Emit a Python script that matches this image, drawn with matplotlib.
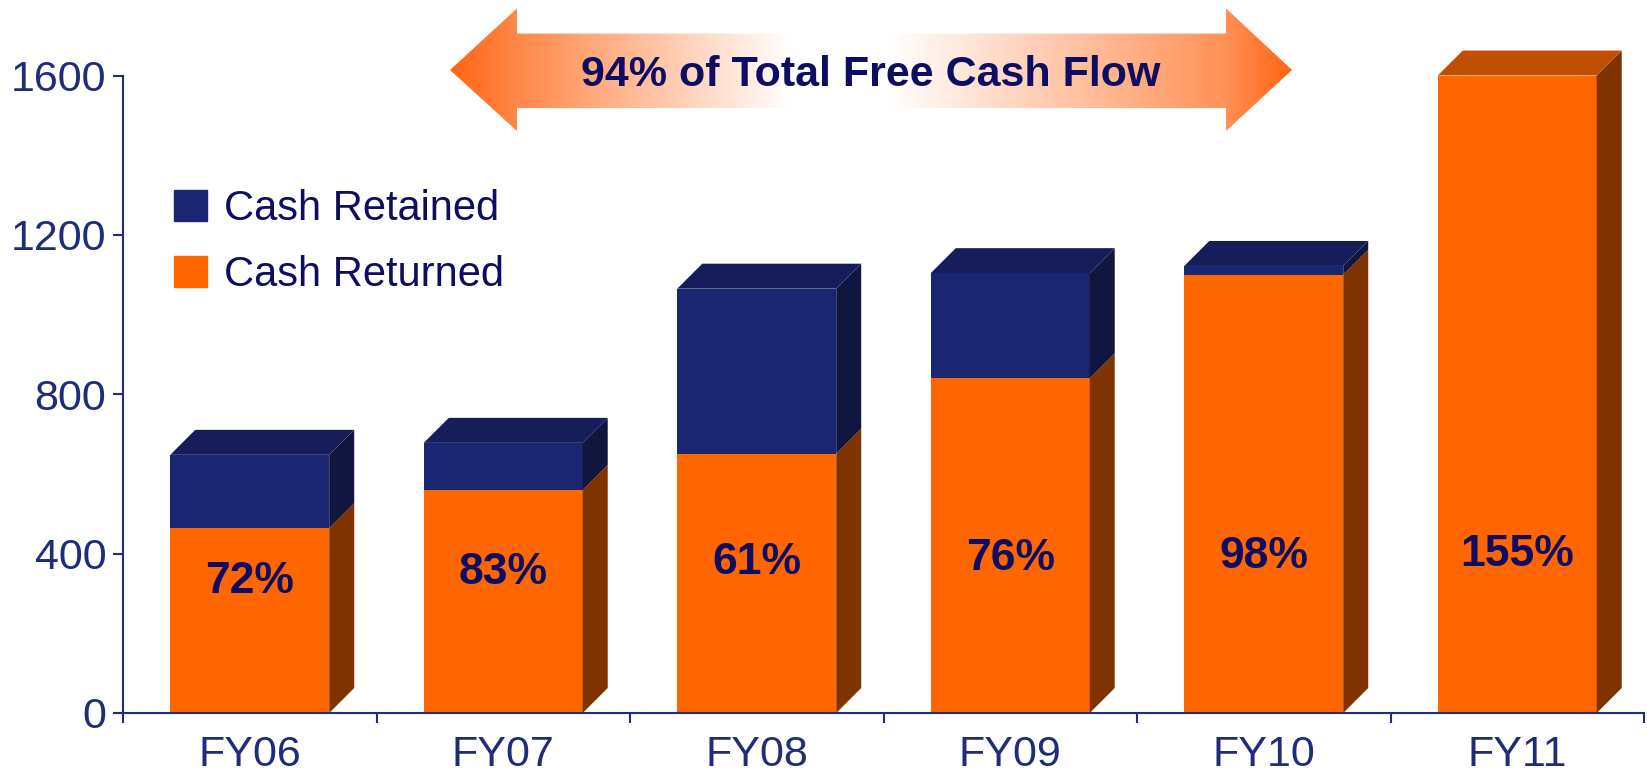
import numpy as np
import matplotlib
matplotlib.use("Agg")
import matplotlib.pyplot as plt
from matplotlib.patches import Polygon, Patch

plt.rcParams["font.family"] = ["Liberation Sans", "DejaVu Sans"]

# data
years = ["FY06", "FY07", "FY08", "FY09", "FY10", "FY11"]
cash_returned = [464, 560, 651, 840, 1100, 1600]
cash_retained = [184, 118, 414, 264, 22, 0]
payout_pct = ["72%", "83%", "61%", "76%", "98%", "155%"]
label_y = [330, 352, 378, 387, 392, 397]
yticks = [0, 400, 800, 1200, 1600]

# colours
orange, orange_side, orange_top = "#FF6600", "#7F3300", "#C04F00"
navy, navy_side, navy_top = "#1B2673", "#11163E", "#161D5A"
axis_col = "#1F2C7C"
label_col = "#0D0D64"

W, H = 1647, 775
fig = plt.figure(figsize=(W / 100, H / 100), dpi=100)
ax = fig.add_axes([123 / W, 1 - 713 / H, 1521 / W, (713 - 75.5) / H])

x = np.arange(len(years))
w = 0.627
dx, dy = 0.0986, 62.7   # pseudo-3D depth (~25 px)

ax.bar(x, cash_returned, w, color=orange, zorder=2, linewidth=0)
ax.bar(x, cash_retained, w, bottom=cash_returned, color=navy, zorder=2, linewidth=0)

for i in range(len(years)):
    left, right = x[i] - w / 2, x[i] + w / 2
    segs = [(0, cash_returned[i], orange_side, orange_top)]
    if cash_retained[i] > 0:
        segs.append((cash_returned[i], cash_returned[i] + cash_retained[i], navy_side, navy_top))
    for b, t, side_c, top_c in segs:
        ax.add_patch(Polygon([(right, b), (right + dx, b + dy), (right + dx, t + dy), (right, t)],
                             closed=True, facecolor=side_c, edgecolor="none", zorder=2, clip_on=False))
    b, t, side_c, top_c = segs[-1]
    ax.add_patch(Polygon([(left, t), (right, t), (right + dx, t + dy), (left + dx, t + dy)],
                         closed=True, facecolor=top_c, edgecolor="none", zorder=2, clip_on=False))
    ax.text(x[i], label_y[i], payout_pct[i], ha="center", va="center", fontsize=32,
            fontweight="bold", color=label_col, zorder=3)

ax.set_xlim(-0.5, len(years) - 0.5)
ax.set_ylim(0, 1600)
ax.set_yticks(yticks)
ax.set_xticks(x)
ax.set_xticklabels(years)
ax.set_xticks(np.arange(-0.5, len(years), 1), minor=True)
ax.tick_params(axis="x", which="major", length=0, pad=16, labelsize=31, labelcolor=axis_col)
ax.tick_params(axis="x", which="minor", length=7.5, width=1.5, color=axis_col, direction="out")
ax.tick_params(axis="y", length=7.5, width=1.5, color=axis_col, pad=4.5, labelsize=31, labelcolor=axis_col)
for s in ["top", "right"]:
    ax.spines[s].set_visible(False)
for s in ["left", "bottom"]:
    ax.spines[s].set_color(axis_col)
    ax.spines[s].set_linewidth(1.5)

handles = [Patch(color=navy, label="Cash Retained"), Patch(color=orange, label="Cash Returned")]
leg = ax.legend(handles=handles, loc="upper left", bbox_to_anchor=(174 / W, 1 - 189 / H),
                bbox_transform=fig.transFigure, frameon=False, fontsize=30,
                handlelength=0.78, handleheight=0.78, handletextpad=0.42,
                labelspacing=0.62, borderaxespad=0, borderpad=0)
for t in leg.get_texts():
    t.set_color(label_col)

# gradient double arrow on top
ov = fig.add_axes([0, 0, 1, 1], zorder=5)
ov.axis("off")
arrow = Polygon([(450, 70), (517, 8.4), (517, 33.6), (1226, 33.6), (1226, 8.4), (1292, 70),
                 (1226, 131), (1226, 108), (517, 108), (517, 131)],
                closed=True, facecolor="none", edgecolor="none")
ov.add_patch(arrow)
gx = np.linspace(450, 1292, 400)
mix = np.interp(gx, [450, 517, 790, 890, 1226, 1292], [1.0, 0.78, 0.0, 0.0, 0.72, 1.0])
base = np.array([1.0, 0.4, 0.08])
grad = 1 - mix[None, :, None] * (1 - base[None, None, :])
im = ov.imshow(grad, extent=[450, 1292, 131, 8.4], aspect="auto", interpolation="bilinear")
im.set_clip_path(arrow)
ov.set_xlim(0, W)
ov.set_ylim(H, 0)
ov.text(871, 86, "94% of Total Free Cash Flow", ha="center", va="baseline", fontsize=31,
        fontweight="bold", color=label_col)

fig.savefig("out.png", dpi=100)
